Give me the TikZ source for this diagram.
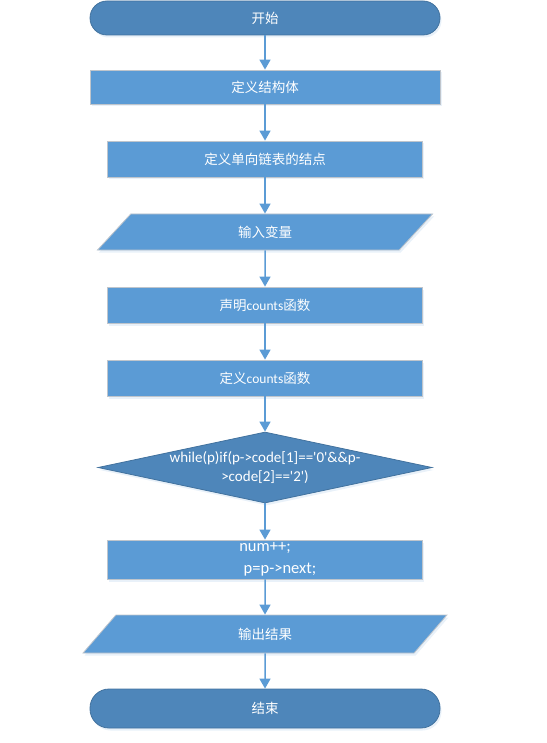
\documentclass[tikz,border=0pt]{standalone}
\usepackage{fontspec}
\setmainfont{Carlito}
\newfontfamily\cjk{Noto Sans CJK SC}
\newfontfamily\codefont{Carlito}[Ligatures=TeXOff]
\usepackage{tikz}
\usetikzlibrary{arrows.meta, positioning, shapes.geometric, shadows}

\definecolor{boxblue}{HTML}{5B9BD5}
\definecolor{termblue}{HTML}{4E86BA}
\definecolor{edgegray}{HTML}{BFC5CC}

\begin{document}
\begin{tikzpicture}[x=1pt, y=-1pt, >={Triangle[length=10pt,width=11pt]},
  flow/.style={->, boxblue, line width=1.5pt},
  soft/.style={drop shadow={shadow xshift=1.5pt, shadow yshift=-2.5pt, opacity=.3, fill=boxblue!45}},
  procbox/.style={rectangle, fill=boxblue, draw=edgegray, line width=.8pt, text=white,
    minimum width=315pt, minimum height=36pt, inner sep=0pt, soft,
    font=\cjk\fontsize{13.5}{16}\selectfont},
  term/.style={procbox, fill=termblue, draw=termblue!85!black, rounded corners=17pt,
    minimum width=350pt},
  iobox/.style={procbox, trapezium, trapezium left angle=62, trapezium right angle=118,
    trapezium stretches=true},
  decide/.style={diamond, fill=termblue, draw=termblue!85!black, line width=.8pt,
    minimum width=334pt, minimum height=71pt, inner sep=0pt, soft}
]
\useasboundingbox (0,0) rectangle (546,743);

% Start
\node[term, minimum height=34pt] (start) at (265,18) {开始};

% Definitions
\node[procbox, minimum width=350pt, minimum height=34pt] (defstruct) at (265,87) {定义结构体};
\node[procbox] (defnode) at (265,159) {定义单向链表的结点};

% Input (parallelogram)
\node[iobox, minimum width=336pt] (input) at (265,232) {输入变量};

% Function declaration / definition
\node[procbox] (declfn) at (265,305) {声明{\rmfamily counts}函数};
\node[procbox] (deffn) at (265,378) {定义{\rmfamily counts}函数};

% Loop condition
\node[decide,
  label={[text=white, align=center, font=\codefont\fontsize{15}{19}\selectfont]center:{while(p)if(p->code[1]=='0'\&\&p-\\>code[2]=='2')}}]
  (cond) at (265,467.5) {};

% Loop body
\node[procbox, minimum height=39pt, align=center,
  font=\codefont\fontsize{16.5}{22}\selectfont] (body) at (265,559.5)
  {num++;\\\hspace*{30pt}p=p->next;};

% Output (parallelogram)
\node[iobox, minimum width=366pt, minimum height=38pt,
  trapezium left angle=64.5, trapezium right angle=115.5] (output) at (265,634) {输出结果};

% End
\node[term, minimum height=39pt, rounded corners=19pt] (stop) at (265,708.5) {结束};

% Connectors
\draw[flow] (start) -- (defstruct);
\draw[flow] (defstruct) -- (defnode);
\draw[flow] (defnode) -- (input);
\draw[flow] (input) -- (declfn);
\draw[flow] (declfn) -- (deffn);
\draw[flow] (deffn) -- (cond);
\draw[flow] (cond) -- (body);
\draw[flow] (body) -- (output);
\draw[flow] (output) -- (stop);
\end{tikzpicture}
\end{document}
